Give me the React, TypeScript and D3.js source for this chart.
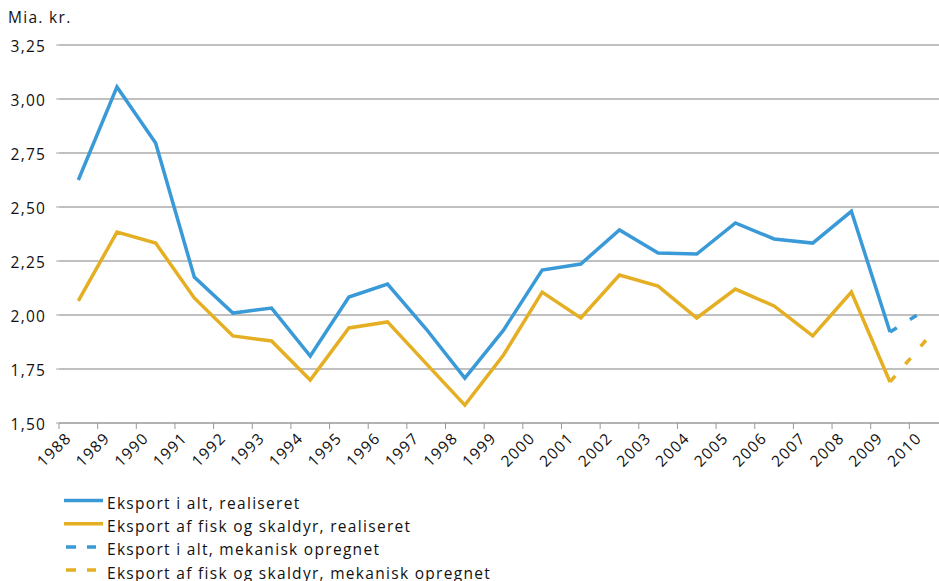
import React from "react";
import * as d3 from "d3";

const years = ["1988","1989","1990","1991","1992","1993","1994","1995","1996","1997","1998","1999","2000","2001","2002","2003","2004","2005","2006","2007","2008","2009","2010"];
const totalRealized = [2.625,3.056,2.796,2.176,2.009,2.032,1.81,2.083,2.143,1.935,1.708,1.93,2.208,2.236,2.394,2.287,2.282,2.426,2.352,2.333,2.48,1.921,null];
const fishRealized = [2.065,2.384,2.333,2.079,1.903,1.88,1.699,1.94,1.968,1.775,1.583,1.815,2.106,1.986,2.185,2.134,1.986,2.12,2.042,1.903,2.106,1.69,null];
const totalProjected = [null,null,null,null,null,null,null,null,null,null,null,null,null,null,null,null,null,null,null,null,null,1.921,2.033];
const fishProjected = [null,null,null,null,null,null,null,null,null,null,null,null,null,null,null,null,null,null,null,null,null,1.69,1.898];
const yTicks = [1.5,1.75,2.0,2.25,2.5,2.75,3.0,3.25];
const legendLabels = ["Eksport i alt, realiseret","Eksport af fisk og skaldyr, realiseret","Eksport i alt, mekanisk opregnet","Eksport af fisk og skaldyr, mekanisk opregnet"];

const BLUE = "#3A9AD8";
const GOLD = "#E4AF22";
const FONT = "'Open Sans', 'DejaVu Sans', sans-serif";
const LS = 1.3;

export default function App() {
  const W = 939, H = 581;
  const x = d3.scaleBand<string>().domain(years).range([59, 948]);
  const y = d3.scaleLinear().domain([1.5, 3.25]).range([423, 45]);
  const cx = (yr: string) => (x(yr) as number) + x.bandwidth() / 2;
  const line = d3.line<[string, number | null]>()
    .defined(d => d[1] != null)
    .x(d => cx(d[0]))
    .y(d => y(d[1] as number));
  const pair = (arr: (number | null)[]) => years.map((yr, i) => [yr, arr[i]] as [string, number | null]);
  const series = [
    { data: totalRealized, color: BLUE, dash: null },
    { data: fishRealized, color: GOLD, dash: null },
    { data: totalProjected, color: BLUE, dash: "8 15.5" },
    { data: fishProjected, color: GOLD, dash: "8 15.5" },
  ];
  return (
    <svg width={W} height={H} style={{ position: "absolute", left: 0, top: 0, background: "#fff" }} fontFamily={FONT}>
      <text x={8} y={23} fontSize={15.5} letterSpacing={LS} fill="#111">Mia. kr.</text>
      {yTicks.map(t => (
        <g key={t}>
          {t > 1.5 && <line x1={59} x2={W} y1={y(t)} y2={y(t)} stroke="#ababab" strokeWidth={1.5} />}
          <line x1={56} x2={59} y1={y(t)} y2={y(t)} stroke="#ababab" strokeWidth={1} />
          <text x={45 + LS} y={y(t) + 6.5} fontSize={15.5} letterSpacing={LS} textAnchor="end" fill="#111">{d3.format(".2f")(t).replace(".", ",")}</text>
        </g>
      ))}
      <line x1={59} x2={W} y1={423} y2={423} stroke="#999" strokeWidth={1.5} />
      {years.map(yr => (
        <line key={yr} x1={x(yr) as number} x2={x(yr) as number} y1={423} y2={429} stroke="#999" strokeWidth={1} />
      ))}
      {years.map(yr => (
        <text key={"l" + yr} transform={`translate(${cx(yr) - 6},${439}) rotate(-45)`} fontSize={15.5} letterSpacing={LS} textAnchor="end" fill="#111">{yr}</text>
      ))}
      {series.map((s, i) => (
        <path key={i} d={line(pair(s.data)) || ""} fill="none" stroke={s.color} strokeWidth={3.5}
          strokeDasharray={s.dash || undefined} strokeLinejoin="miter" />
      ))}
      {legendLabels.map((lab, i) => {
        const ly = 500.5 + i * 23.2;
        const col = i % 2 === 0 ? BLUE : GOLD;
        const dashed = i >= 2;
        return (
          <g key={lab}>
            <line x1={dashed ? 66 : 64} x2={dashed ? 96 : 103} y1={ly} y2={ly} stroke={col} strokeWidth={3.5} strokeDasharray={dashed ? "10 11" : undefined} />
            <text x={107} y={ly + 8.5} fontSize={15.5} letterSpacing={LS} fill="#111">{lab}</text>
          </g>
        );
      })}
    </svg>
  );
}
